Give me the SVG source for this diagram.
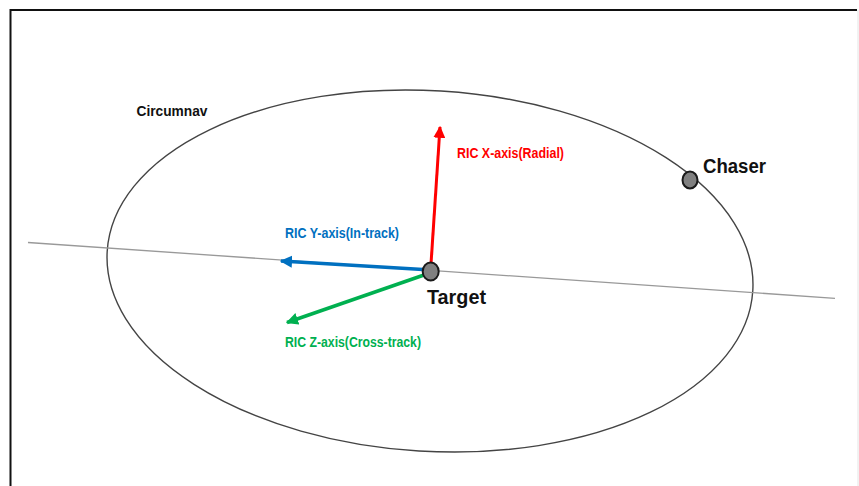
<svg xmlns="http://www.w3.org/2000/svg" width="859" height="486" viewBox="0 0 859 486">
<style>
.lbl{font-family:"Liberation Sans",Arial,sans-serif;font-weight:bold}
.ax{font-size:14px}
.nm{font-size:20px;fill:#111}
.dot{fill:#808080;stroke:#1a1a1a;stroke-width:2}
</style>
<defs>
<marker id="hr" viewBox="0 0 10 10" refX="9" refY="5" markerWidth="4" markerHeight="4" orient="auto" markerUnits="strokeWidth"><path d="M0,0 L10,5 L0,10 z" fill="#ff0000"/></marker>
<marker id="hb" viewBox="0 0 10 10" refX="9" refY="5" markerWidth="3.5" markerHeight="3.5" orient="auto" markerUnits="strokeWidth"><path d="M0,0 L10,5 L0,10 z" fill="#0070c0"/></marker>
<marker id="hg" viewBox="0 0 10 10" refX="9" refY="5" markerWidth="3.5" markerHeight="3.5" orient="auto" markerUnits="strokeWidth"><path d="M0,0 L10,5 L0,10 z" fill="#00b050"/></marker>
</defs>
<rect width="859" height="486" fill="#fff"/>
<path d="M10.5,486 V10 H857" fill="none" stroke="#111" stroke-width="2"/>
<line x1="858" y1="10" x2="858" y2="486" stroke="#e4e4e4" stroke-width="1"/>
<g id="orbit">
<ellipse cx="430" cy="271" rx="323.4" ry="180.3" transform="rotate(3.5 430 271)" fill="none" stroke="#444" stroke-width="1.4"/>
</g>
<g id="connectors">
<line x1="28" y1="242.5" x2="835" y2="298.3" stroke="#999" stroke-width="1.3"/>
<line x1="431" y1="264" x2="440" y2="127" stroke="#ff0000" stroke-width="3" marker-end="url(#hr)"/>
<line x1="423" y1="269.5" x2="281" y2="261" stroke="#0070c0" stroke-width="3.5" marker-end="url(#hb)"/>
<line x1="424" y1="275" x2="287" y2="322.5" stroke="#00b050" stroke-width="3.5" marker-end="url(#hg)"/>
</g>
<g id="target">
<ellipse class="dot" cx="430.7" cy="271.5" rx="8" ry="9"/>
<text class="lbl nm" x="427" y="304" textLength="59" lengthAdjust="spacingAndGlyphs">Target</text>
</g>
<g id="chaser">
<ellipse class="dot" cx="690" cy="180" rx="7.5" ry="8.5"/>
<text class="lbl nm" x="703" y="173" textLength="63" lengthAdjust="spacingAndGlyphs">Chaser</text>
</g>
<g id="circumnav">
<text class="lbl" x="136.5" y="116" font-size="15" fill="#111" textLength="71" lengthAdjust="spacingAndGlyphs">Circumnav</text>
</g>
<g id="x-axis"><text class="lbl ax" x="457" y="158" fill="#ff0000" textLength="107" lengthAdjust="spacingAndGlyphs">RIC X-axis(Radial)</text></g>
<g id="y-axis"><text class="lbl ax" x="285" y="238" fill="#0070c0" textLength="114" lengthAdjust="spacingAndGlyphs">RIC Y-axis(In-track)</text></g>
<g id="z-axis"><text class="lbl ax" x="285" y="347" fill="#00b050" textLength="136" lengthAdjust="spacingAndGlyphs">RIC Z-axis(Cross-track)</text></g>
</svg>
